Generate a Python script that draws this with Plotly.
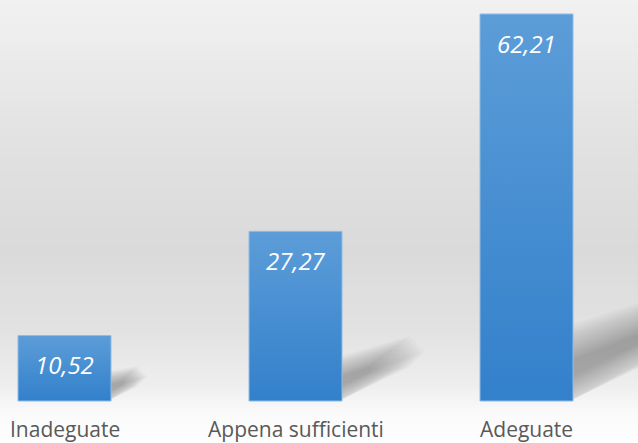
import plotly.graph_objects as go

categories = ["Inadeguate", "Appena sufficienti", "Adeguate"]
values = [10.52, 27.27, 62.21]
value_labels = ["10,52", "27,27", "62,21"]

# ---- layout geometry (pixels) ----
W, H = 638, 443
PXX = 231.0                  # pixels per category step
BASE_PX = 401.0              # baseline pixel row
PXY = 387.0 / 62.21          # pixels per value unit
X0_PX = 64.5                 # pixel centre of first category
HALF_W = 46.5 / PXX          # half bar width in x units

x_range = [-X0_PX / PXX, (W - X0_PX) / PXX]
y_range = [-(H - BASE_PX) / PXY, BASE_PX / PXY]

fig = go.Figure()

# ---- background vertical gradient (style) ----
bg_px = [443, 412, 385, 330, 250, 150, 0]
bg_lv = [254, 250, 238, 226, 218, 225, 241]
fig.add_trace(go.Heatmap(
    x=[x_range[0] - 0.1, x_range[1] + 0.1],
    y=[(BASE_PX - p) / PXY for p in bg_px],
    z=[[lv, lv] for lv in bg_lv],
    zmin=0, zmax=255, zsmooth="best",
    colorscale=[[0, "rgb(0,0,0)"], [1, "rgb(255,255,255)"]],
    showscale=False, hoverinfo="skip",
))

# ---- soft perspective shadows (style derived from bar heights) ----
N_LAYERS = 16
SLOPE = 0.45
for i, v in enumerate(values):
    h_px = v * PXY
    L = 0.33 * h_px
    T = 16 + 0.11 * h_px
    R = i + HALF_W
    for k in range(N_LAYERS):
        f = 1.5 - 1.2 * k / (N_LAYERS - 1)
        Lk = L * (1.2 - 0.7 * k / (N_LAYERS - 1))
        c0 = T * 0.55
        c1 = c0 + SLOPE * Lk
        hw0 = f * T / 2
        hw1 = f * T * 0.6 / 2
        pts = [(-2, max(c0 - hw0, 0.5)), (Lk, c1 - hw1), (Lk + hw1, c1),
               (Lk, c1 + hw1), (-2, c0 + hw0)]
        xs = [R + px / PXX for px, _ in pts]
        ys = [py / PXY for _, py in pts]
        xs.append(xs[0]); ys.append(ys[0])
        fig.add_trace(go.Scatter(
            x=xs, y=ys, mode="lines", fill="toself",
            line=dict(width=0), fillcolor="rgba(0,0,0,0.021)",
            hoverinfo="skip", showlegend=False,
        ))

# ---- bars with vertical gradient ----
for i, v in enumerate(values):
    fig.add_trace(go.Scatter(
        x=[i - HALF_W, i + HALF_W, i + HALF_W, i - HALF_W, i - HALF_W],
        y=[0, 0, v, v, 0],
        mode="lines", fill="toself",
        line=dict(width=1, color="#8fbbe6"),
        fillgradient=dict(type="vertical",
                          colorscale=[[0, "#3380cb"], [1, "#5c9dd8"]]),
        hoverinfo="skip", showlegend=False,
    ))

# ---- value labels ----
for i, (v, t) in enumerate(zip(values, value_labels)):
    fig.add_annotation(x=i, y=v, xref="x", yref="y", text=t, showarrow=False,
                       yanchor="middle", yshift=-29,
                       font=dict(family="Open Sans", size=24, color="white", style="italic"))

# ---- category labels ----
for i, c in enumerate(categories):
    fig.add_annotation(x=i, y=0, xref="x", yref="paper", text=c, showarrow=False,
                       yanchor="bottom", yshift=-2,
                       font=dict(family="Open Sans", size=21, color="#595959"))

fig.update_layout(
    width=W, height=H,
    margin=dict(l=0, r=0, t=0, b=0),
    paper_bgcolor="white", plot_bgcolor="white",
    showlegend=False,
    xaxis=dict(range=x_range, visible=False, fixedrange=True),
    yaxis=dict(range=y_range, visible=False, fixedrange=True),
)

fig.write_html("out.html", config={"displayModeBar": False},
               post_script="document.body.style.margin='0';document.body.style.overflow='hidden';")
